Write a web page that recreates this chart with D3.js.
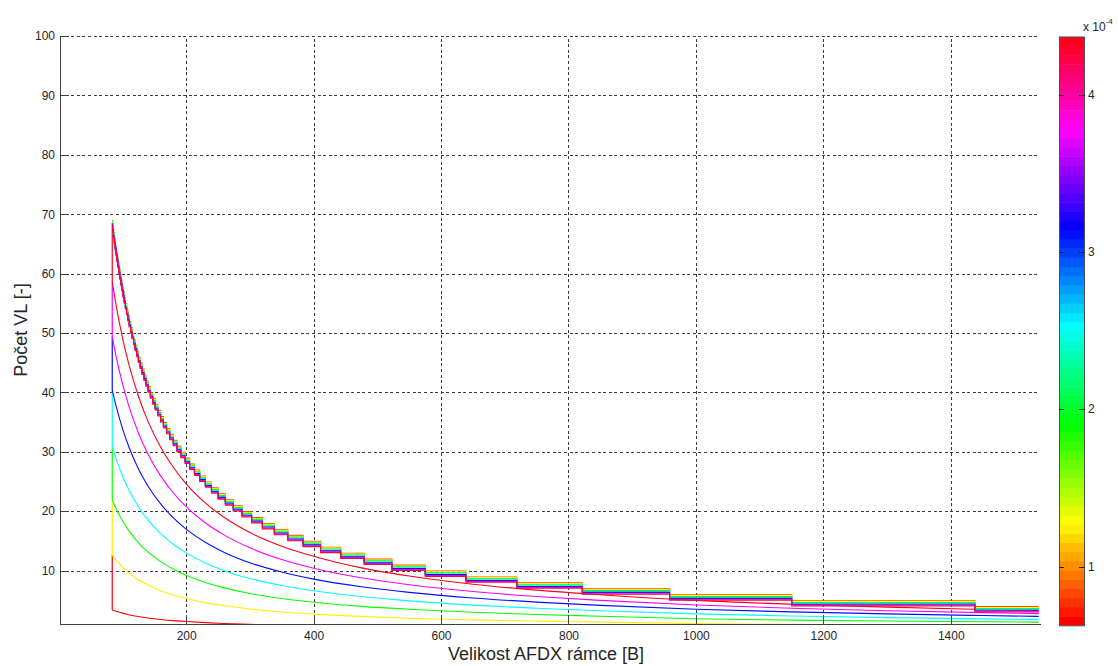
<!DOCTYPE html>
<html>
<head>
<meta charset="utf-8">
<script src="https://cdnjs.cloudflare.com/ajax/libs/d3/7.8.5/d3.min.js"></script>
<style>
  body { margin: 0; background: #fff; }
  text { font-family: "Liberation Sans", Arial, Helvetica, sans-serif; fill: #262626; }
  .grid line { stroke: #3c3c3c; stroke-dasharray: 3,2.6; shape-rendering: crispEdges; }
  .grid path { display: none; }
  .axis path, .axis line { stroke: #404040; shape-rendering: crispEdges; }
</style>
</head>
<body>
<div id="viz"></div>
<script>
var sampleX = [84, 90, 100, 110, 125, 140, 160, 180, 200, 230, 260, 300, 350, 400, 475, 550, 650, 750, 850, 1000, 1150, 1300, 1450, 1538];

// colour parameter of each smooth curve (x 10^-4)
var curveP = [0.63, 1.25, 1.87, 2.5, 3.12, 3.75, 4.37];

// number of VL, one array per smooth curve
var curveRed = [3.37, 3.14, 2.83, 2.57, 2.26, 2.02, 1.77, 1.57, 1.42, 1.23, 1.09, 0.94, 0.81, 0.71, 0.60, 0.51, 0.44, 0.38, 0.33, 0.28, 0.25, 0.22, 0.20, 0.18];
var curveYellow = [12.6, 11.76, 10.58, 9.62, 8.46, 7.56, 6.61, 5.88, 5.29, 4.60, 4.07, 3.53, 3.03, 2.67, 2.28, 1.98, 1.70, 1.48, 1.31, 1.07, 0.93, 0.85, 0.76, 0.71];
var curveGreen = [21.9, 20.44, 18.40, 16.73, 14.72, 13.14, 11.50, 10.22, 9.20, 8.00, 7.08, 6.13, 5.28, 4.65, 3.97, 3.48, 2.98, 2.60, 2.31, 1.88, 1.66, 1.50, 1.38, 1.32];
var curveCyan = [30.9, 28.84, 25.96, 23.60, 20.77, 18.54, 16.23, 14.42, 12.98, 11.29, 9.98, 8.65, 7.48, 6.59, 5.62, 4.90, 4.18, 3.65, 3.22, 2.70, 2.35, 2.08, 1.87, 1.77];
var curveBlue = [40.4, 37.71, 33.94, 30.85, 27.15, 24.24, 21.21, 18.86, 16.97, 14.76, 13.05, 11.31, 9.74, 8.55, 7.26, 6.32, 5.38, 4.68, 4.14, 3.48, 3.04, 2.70, 2.42, 2.28];
var curveMagenta = [49.4, 46.11, 41.50, 37.73, 33.20, 29.64, 25.94, 23.06, 20.75, 18.04, 15.96, 13.83, 11.86, 10.40, 8.78, 7.62, 6.47, 5.62, 4.97, 4.20, 3.66, 3.24, 2.91, 2.75];
var curveRed2 = [58.6, 54.69, 49.22, 44.75, 39.38, 35.16, 30.76, 27.34, 24.61, 21.40, 18.93, 16.40, 14.10, 12.40, 10.45, 9.08, 7.70, 6.70, 5.92, 4.97, 4.33, 3.84, 3.45, 3.25];

// top of the vertical jump at 84 B for each curve
var curveJoin = [12.6, 21.9, 30.9, 40.4, 49.4, 58.6, 68.5];

// stair envelope: frame size where each level starts, and the level
var stairStart = [84, 84.6, 85.9, 87.2, 88.5, 89.9, 91.3, 92.8, 94.3, 95.9, 97.5, 99.2, 100.9, 102.7, 104.6, 106.5, 108.5, 110.6, 112.8, 115.0, 117.4, 119.8, 122.4, 125.0, 127.8, 130.7, 133.8, 137.0, 140.3, 143.8, 147.5, 151.4, 155.5, 159.8, 164.3, 169.2, 174.3, 179.8, 185.5, 191.7, 198.3, 205.4, 213.0, 221.2, 230.1, 239.7, 250.1, 261.5, 273.9, 287.6, 302.7, 319.6, 338.4, 359.5, 383.5, 410.9, 442.5, 479.3, 522.9, 575.2, 639.1, 719.0, 821.7, 958.7, 1150.4, 1438.0, 1538];
var stairLevel = [68, 67, 66, 65, 64, 63, 62, 61, 60, 59, 58, 57, 56, 55, 54, 53, 52, 51, 50, 49, 48, 47, 46, 45, 44, 43, 42, 41, 40, 39, 38, 37, 36, 35, 34, 33, 32, 31, 30, 29, 28, 27, 26, 25, 24, 23, 22, 21, 20, 19, 18, 17, 16, 15, 14, 13, 12, 11, 10, 9, 8, 7, 6, 5, 4, 3, 3];

// the stair lines stacked inside each step, top to bottom
var stairP = [0.85, 1.3, 1.9, 2.5, 3.1, 3.7, 4.3];
var stairOffset = [0.92, 0.77, 0.62, 0.47, 0.32, 0.17, 0.02];

var xTicks = [200, 400, 600, 800, 1000, 1200, 1400];
var yTicks = [10, 20, 30, 40, 50, 60, 70, 80, 90, 100];
var cbarRange = [0.626, 4.371];
var cbarTicks = [1, 2, 3, 4];

var W = 1118, H = 666;
var margin = {top: 36, right: 78, bottom: 42, left: 60};

var svg = d3.select("#viz").append("svg")
  .attr("width", W)
  .attr("height", H);

var x = d3.scaleLinear().domain([2, 1540]).range([margin.left, W - margin.right]);
var y = d3.scaleLinear().domain([1, 100]).range([H - margin.bottom, margin.top]);

// matlab hsv(64)
var hsv = d3.range(64).map(function(i){ return d3.hsl(i / 64 * 360, 1, 0.5).formatHex(); });
var color = d3.scaleQuantize().domain(cbarRange).range(hsv);

svg.append("clipPath").attr("id", "plotclip")
  .append("rect")
  .attr("x", x.range()[0]).attr("y", y.range()[1])
  .attr("width", x.range()[1] - x.range()[0])
  .attr("height", y.range()[0] - y.range()[1]);

// grid
svg.append("g").attr("class", "grid")
  .attr("transform", "translate(0," + y.range()[0] + ")")
  .call(d3.axisBottom(x).tickValues(xTicks).tickSize(-(y.range()[0] - y.range()[1])).tickFormat(""));
svg.append("g").attr("class", "grid")
  .attr("transform", "translate(" + x.range()[0] + ",0)")
  .call(d3.axisLeft(y).tickValues(yTicks).tickSize(-(x.range()[1] - x.range()[0])).tickFormat(""));

var plot = svg.append("g").attr("clip-path", "url(#plotclip)");

var smooth = d3.line()
  .x(function(d){ return x(d[0]); })
  .y(function(d){ return y(d[1]); })
  .curve(d3.curveMonotoneX);
var straight = d3.line()
  .x(function(d){ return x(d[0]); })
  .y(function(d){ return y(d[1]); });
var stairs = d3.line()
  .x(function(d){ return x(d[0]); })
  .y(function(d){ return y(d[1]); })
  .curve(d3.curveStepAfter);

var curves = [curveRed, curveYellow, curveGreen, curveCyan, curveBlue, curveMagenta, curveRed2];

curves.forEach(function(vals, i){
  var c = color(curveP[i]);
  plot.append("path")
    .attr("d", straight([[84, vals[0]], [84, curveJoin[i]]]))
    .attr("fill", "none").attr("stroke", c).attr("stroke-width", 1.2);
  plot.append("path")
    .attr("d", smooth(d3.zip(sampleX, vals)))
    .attr("fill", "none").attr("stroke", c).attr("stroke-width", 1.1);
});

stairP.forEach(function(p, i){
  var pts = stairStart.map(function(s, j){ return [s, stairLevel[j] + stairOffset[i]]; });
  plot.append("path")
    .attr("d", stairs(pts))
    .attr("fill", "none").attr("stroke", color(p)).attr("stroke-width", 1.1);
});

// axes
var xAxis = svg.append("g").attr("class", "axis")
  .attr("transform", "translate(0," + y.range()[0] + ")")
  .call(d3.axisBottom(x).tickValues(xTicks).tickFormat(d3.format("d")).tickSizeInner(-9).tickSizeOuter(0).tickPadding(7));
var yAxis = svg.append("g").attr("class", "axis")
  .attr("transform", "translate(" + x.range()[0] + ",0)")
  .call(d3.axisLeft(y).tickValues(yTicks).tickFormat(d3.format("d")).tickSizeInner(-9).tickSizeOuter(0).tickPadding(5));
svg.selectAll(".axis text").style("font-size", "12px").attr("fill", "#262626");

svg.append("text")
  .attr("x", 546).attr("y", 660)
  .attr("text-anchor", "middle")
  .style("font-size", "18px")
  .text("Velikost AFDX rámce [B]");

svg.append("text")
  .attr("transform", "translate(27," + ((y.range()[0] + y.range()[1]) / 2) + ") rotate(-90)")
  .attr("text-anchor", "middle")
  .style("font-size", "18px")
  .text("Počet VL [-]");

// colorbar
var cb = {left: 1059, width: 25};
var cy = d3.scaleLinear().domain(cbarRange).range([625.3, 36.7]);
var step = (cbarRange[1] - cbarRange[0]) / hsv.length;
var cbar = svg.append("g");
cbar.selectAll("rect.band")
  .data(hsv)
  .enter().append("rect")
  .attr("class", "band")
  .attr("x", cb.left)
  .attr("y", function(d, i){ return cy(cbarRange[0] + (i + 1) * step); })
  .attr("width", cb.width)
  .attr("height", function(d, i){ return cy(cbarRange[0] + i * step) - cy(cbarRange[0] + (i + 1) * step) + 0.5; })
  .attr("fill", function(d){ return d; });
cbar.append("rect")
  .attr("x", cb.left + 0.5).attr("y", cy(cbarRange[1]) + 0.5)
  .attr("width", cb.width).attr("height", cy(cbarRange[0]) - cy(cbarRange[1]))
  .attr("fill", "none").attr("stroke", "#505050").attr("stroke-width", 1);

var cTick = cbar.selectAll("g.ctick")
  .data(cbarTicks)
  .enter().append("g")
  .attr("class", "ctick")
  .attr("transform", function(d){ return "translate(0," + (Math.round(cy(d)) + 0.5) + ")"; });
cTick.append("line").attr("x1", cb.left).attr("x2", cb.left + 5).attr("stroke", "#222");
cTick.append("line").attr("x1", cb.left + cb.width - 5).attr("x2", cb.left + cb.width + 1).attr("stroke", "#222");
cTick.append("text")
  .attr("x", cb.left + cb.width + 4).attr("dy", "0.32em")
  .style("font-size", "12px")
  .text(function(d){ return d; });

var expo = cbar.append("text")
  .attr("x", 1083).attr("y", 31)
  .style("font-size", "12px");
expo.append("tspan").text("x 10");
expo.append("tspan").attr("dy", -7).style("font-size", "8px").text("-4");
</script>
</body>
</html>
